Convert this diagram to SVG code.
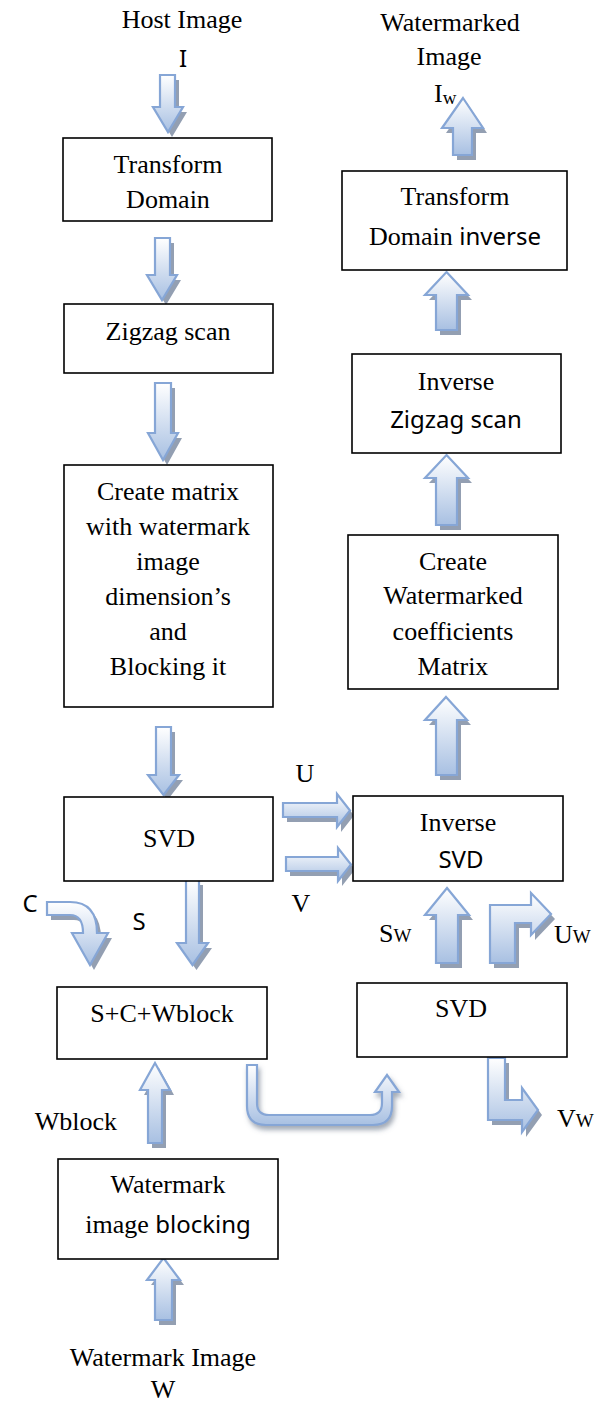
<svg xmlns="http://www.w3.org/2000/svg" xmlns:xlink="http://www.w3.org/1999/xlink" width="600" height="1405" viewBox="0 0 600 1405">
<style>
.box{fill:#fff;stroke:#000;stroke-width:1.6}
.t{font-family:"Liberation Serif","Times New Roman",serif;font-size:26px;fill:#000;text-anchor:middle}
.ts{font-family:"Noto Sans","Open Sans",sans-serif;font-size:24px;fill:#000}
.l{font-family:"Liberation Serif","Times New Roman",serif;font-size:26px;fill:#000}
.sub{font-size:19px}
.ar{fill:url(#g);stroke:#86a6d6;stroke-width:2.2;stroke-linejoin:miter}
.sh{fill:#8795aa;opacity:0.9}
</style>
<defs>
<linearGradient id="g" x1="0" y1="0" x2="0" y2="1">
<stop offset="0" stop-color="#ffffff"/>
<stop offset="1" stop-color="#a8c0e2"/>
</linearGradient>
<filter id="soft" x="-20%" y="-20%" width="140%" height="160%">
<feDropShadow dx="2" dy="4" stdDeviation="2.5" flood-color="#55647a" flood-opacity="0.55"/>
</filter>
<path id="a1" d="M160,75 H175 V107 H183 L168,132 L153,107 H160 Z"/>
<path id="a2" d="M155,238 H170 V275 H177 L162,300 L147,275 H155 Z"/>
<path id="a3" d="M155,383 H171 V433 H178 L163,460 L148,433 H155 Z"/>
<path id="a4" d="M156,727 H171 V775 H179 L163.5,795 L148,775 H156 Z"/>
<path id="aS" d="M186,880 H199 V943 H208 L192.5,965 L177,943 H186 Z"/>
<path id="aC" d="M47,902 H70 Q97,902 97,933 H108 L90,965 L72,933 H83 Q83,915 70,915 H47 Z"/>
<path id="aU" d="M283,803 H337 V794 L350,810.5 L337,827 V817 H283 Z"/>
<path id="aV" d="M286,857 H338 V848 L351,864.5 L338,881 V871 H286 Z"/>
<path id="aIw" d="M463,98 L483,128 H472 V155 H453 V128 H442 Z"/>
<path id="r1" d="M446.5,272 L468,295 H457 V330 H436 V295 H425 Z"/>
<path id="r2" d="M446.5,455 L468,478 H457 V525 H436 V478 H425 Z"/>
<path id="r3" d="M446,697 L467,720 H457 V775 H436 V720 H425 Z"/>
<path id="aSw" d="M447,888 L469,915 H458 V963 H436 V915 H425 Z"/>
<path id="aUw" d="M490,963 V905 H531 V893 L551,914 L531,935 V923 H515 V963 Z"/>
<path id="aVw" d="M488,1058 H505 V1100 H522 V1088 L538,1110 L522,1132 V1120 H488 Z"/>
<path id="aWb" d="M155,1063 L170,1090 H162 V1143 H148 V1090 H140 Z"/>
<path id="aW" d="M163.5,1258 L180,1280 H172 V1320 H155 V1280 H147 Z"/>
</defs>

<g id="connectors">
<use xlink:href="#a1" class="sh" transform="translate(4,5)"/><use xlink:href="#a1" class="ar"/>
<use xlink:href="#a2" class="sh" transform="translate(4,5)"/><use xlink:href="#a2" class="ar"/>
<use xlink:href="#a3" class="sh" transform="translate(4,5)"/><use xlink:href="#a3" class="ar"/>
<use xlink:href="#a4" class="sh" transform="translate(4,5)"/><use xlink:href="#a4" class="ar"/>
<use xlink:href="#aS" class="sh" transform="translate(4,5)"/><use xlink:href="#aS" class="ar"/>
<use xlink:href="#aC" class="sh" transform="translate(4,5)"/><use xlink:href="#aC" class="ar"/>
<use xlink:href="#aU" class="sh" transform="translate(4,5)"/><use xlink:href="#aU" class="ar"/>
<use xlink:href="#aV" class="sh" transform="translate(4,5)"/><use xlink:href="#aV" class="ar"/>
<use xlink:href="#aIw" class="sh" transform="translate(4,5)"/><use xlink:href="#aIw" class="ar"/>
<use xlink:href="#r1" class="sh" transform="translate(4,5)"/><use xlink:href="#r1" class="ar"/>
<use xlink:href="#r2" class="sh" transform="translate(4,5)"/><use xlink:href="#r2" class="ar"/>
<use xlink:href="#r3" class="sh" transform="translate(4,5)"/><use xlink:href="#r3" class="ar"/>
<use xlink:href="#aSw" class="sh" transform="translate(4,5)"/><use xlink:href="#aSw" class="ar"/>
<use xlink:href="#aUw" class="sh" transform="translate(4,5)"/><use xlink:href="#aUw" class="ar"/>
<use xlink:href="#aVw" class="sh" transform="translate(4,5)"/><use xlink:href="#aVw" class="ar"/>
<use xlink:href="#aWb" class="sh" transform="translate(4,5)"/><use xlink:href="#aWb" class="ar"/>
<use xlink:href="#aW" class="sh" transform="translate(4,5)"/><use xlink:href="#aW" class="ar"/>
<path class="ar" filter="url(#soft)" d="M247,1065 H257 V1103 Q257,1115 269,1115 H370 Q382,1115 382,1103 V1092 H375 L387,1075 L399,1092 H392 V1106 Q392,1125 373,1125 H266 Q247,1125 247,1106 Z"/>
</g>

<g id="labels">
<text class="t" x="182" y="28">Host Image</text>
<text class="ts" x="183" y="67" text-anchor="middle">I</text>
<text class="t" x="450" y="31">Watermarked</text>
<text class="t" x="449" y="65">Image</text>
<text class="l" x="434" y="102">I<tspan class="sub" dy="2">w</tspan></text>
<text class="t" x="305" y="782">U</text>
<text class="t" x="301" y="912">V</text>
<text class="ts" x="30" y="912" text-anchor="middle">C</text>
<text class="ts" x="139" y="930" text-anchor="middle">S</text>
<text class="l" x="379" y="942">S<tspan class="sub">W</tspan></text>
<text class="l" x="554" y="943">U<tspan class="sub">W</tspan></text>
<text class="l" x="557" y="1127">V<tspan class="sub">W</tspan></text>
<text class="l" x="117" y="1130" text-anchor="end">Wblock</text>
<text class="t" x="163" y="1366">Watermark Image</text>
<text class="t" x="163" y="1398">W</text>
</g>

<g id="transform-domain">
<rect class="box" x="63" y="138" width="209" height="83"/>
<text class="t" x="168" y="173">Transform</text>
<text class="t" x="168" y="208">Domain</text>
</g>
<g id="zigzag-scan">
<rect class="box" x="64" y="304" width="209" height="69"/>
<text class="t" x="168" y="340">Zigzag scan</text>
</g>
<g id="create-matrix">
<rect class="box" x="64" y="465" width="209" height="242"/>
<text class="t" x="168" y="500">Create matrix</text>
<text class="t" x="168" y="535">with watermark</text>
<text class="t" x="168" y="570">image</text>
<text class="t" x="168" y="605">dimension’s</text>
<text class="t" x="168" y="640">and</text>
<text class="t" x="168" y="675">Blocking it</text>
</g>
<g id="svd">
<rect class="box" x="64" y="797" width="209" height="84"/>
<text class="t" x="169" y="847">SVD</text>
</g>
<g id="scw">
<rect class="box" x="57" y="987" width="210" height="72"/>
<text class="t" x="162" y="1022">S+C+Wblock</text>
</g>
<g id="wm-blocking">
<rect class="box" x="58" y="1159" width="220" height="100"/>
<text class="t" x="168" y="1193">Watermark</text>
<text class="t" x="168" y="1233">image <tspan class="ts">blocking</tspan></text>
</g>
<g id="transform-inverse">
<rect class="box" x="342" y="171" width="225" height="99"/>
<text class="t" x="455" y="205">Transform</text>
<text class="t" x="455" y="245">Domain <tspan class="ts">inverse</tspan></text>
</g>
<g id="inverse-zigzag">
<rect class="box" x="352" y="354" width="209" height="99"/>
<text class="t" x="456" y="390">Inverse</text>
<text class="ts" x="456" y="428" text-anchor="middle">Zigzag scan</text>
</g>
<g id="create-watermarked">
<rect class="box" x="348" y="535" width="210" height="154"/>
<text class="t" x="453" y="570">Create</text>
<text class="t" x="453" y="604">Watermarked</text>
<text class="t" x="453" y="640">coefficients</text>
<text class="t" x="453" y="675">Matrix</text>
</g>
<g id="inverse-svd">
<rect class="box" x="353" y="796" width="210" height="85"/>
<text class="t" x="458" y="831">Inverse</text>
<text class="ts" x="461" y="868" text-anchor="middle">SVD</text>
</g>
<g id="svd-2">
<rect class="box" x="357" y="983" width="210" height="74"/>
<text class="t" x="461" y="1017">SVD</text>
</g>
</svg>
